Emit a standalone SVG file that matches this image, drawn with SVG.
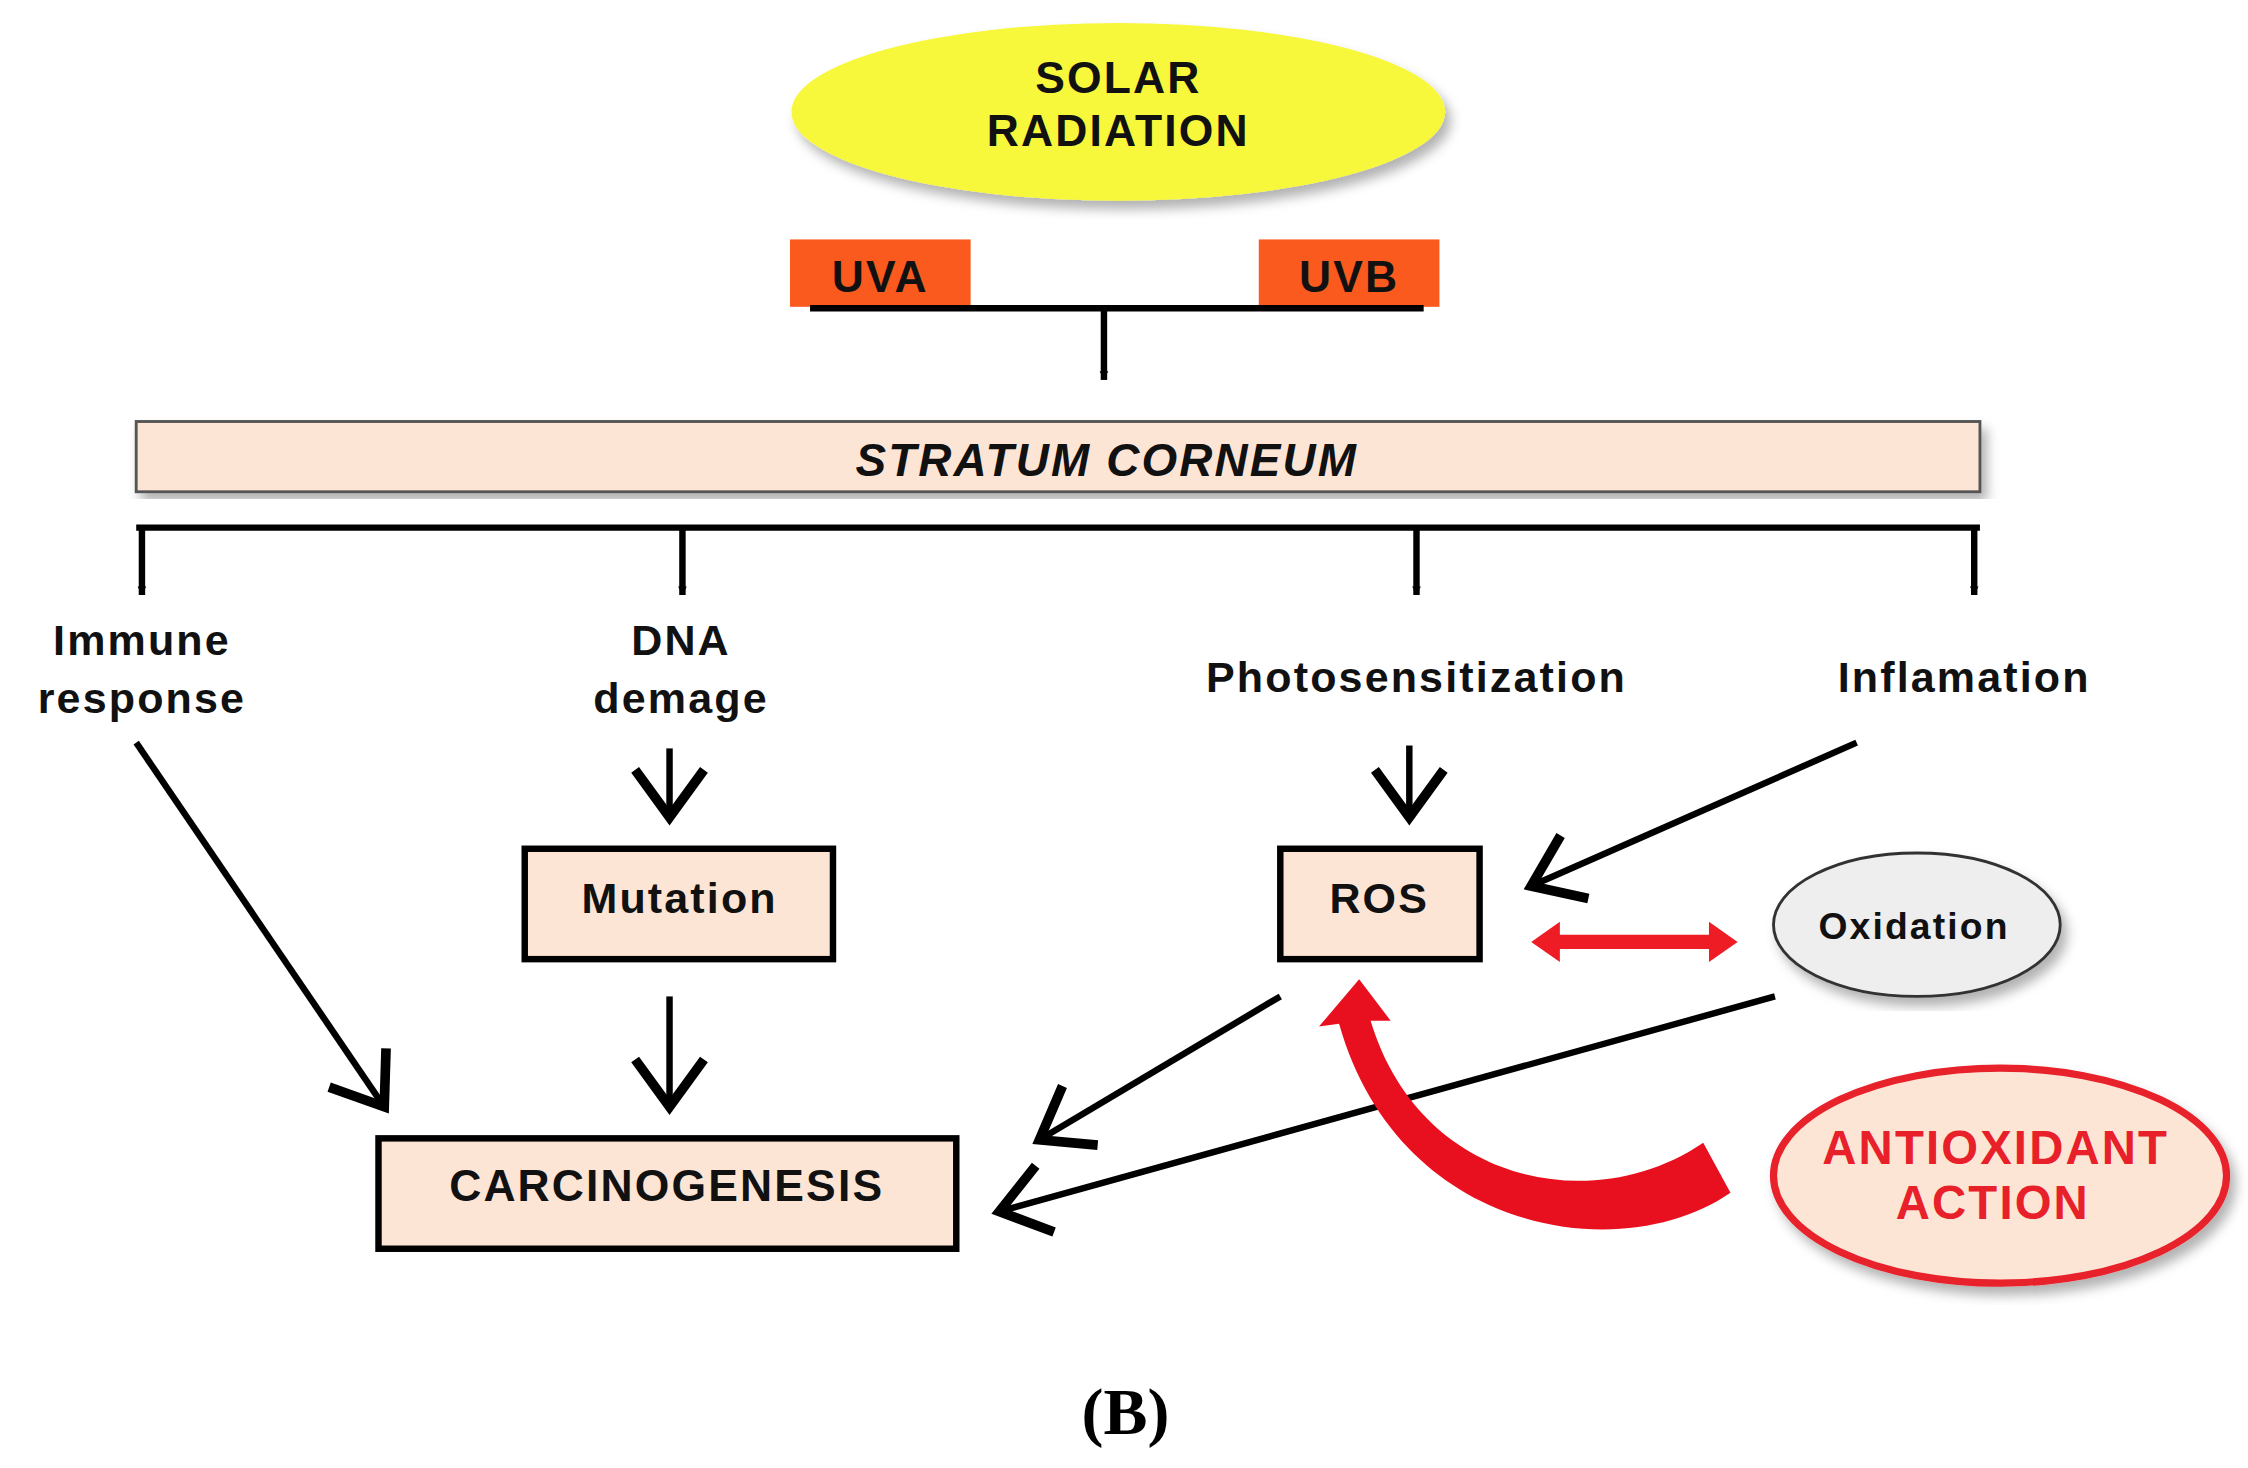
<svg xmlns="http://www.w3.org/2000/svg" width="2248" height="1468" viewBox="0 0 2248 1468">
<defs>
<style>
.t{font-family:"Liberation Sans",Arial,sans-serif;font-weight:bold;text-anchor:middle;fill:#111;letter-spacing:1.5px}
.ln{stroke:#000;stroke-width:4.5;fill:none}
.box{fill:#fde5d6;stroke:#000;stroke-width:4.5}
</style>
<marker id="v" markerUnits="userSpaceOnUse" markerWidth="60" markerHeight="60" refX="26" refY="20" viewBox="0 0 40 40" orient="auto">
<path d="M4,4 L26,20 L4,36" fill="none" stroke="#000" stroke-width="4.5"/>
</marker>
<marker id="s" markerUnits="userSpaceOnUse" markerWidth="12" markerHeight="12" refX="6" refY="3" viewBox="0 0 12 6" orient="auto">
<path d="M0,0 L6,3 L0,6 Z" fill="#000"/>
</marker>
<filter id="sh"><feDropShadow dx="4" dy="6" stdDeviation="4" flood-color="#000" flood-opacity="0.3"/></filter>
</defs>
<rect width="2248" height="1468" fill="#fff"/>
<g transform="scale(1.4337)">
<g id="solar"><ellipse cx="780" cy="78" rx="228" ry="62" fill="#f7f73a" filter="url(#sh)"/>
<text class="t" x="780" y="65" font-size="31">SOLAR</text><text class="t" x="780" y="102" font-size="31">RADIATION</text></g>
<g id="uva"><rect x="551" y="167" width="126" height="47" fill="#fb5a1e"/><text class="t" x="614" y="204" font-size="31">UVA</text></g>
<g id="uvb"><rect x="878" y="167" width="126" height="47" fill="#fb5a1e"/><text class="t" x="941" y="204" font-size="31">UVB</text></g>
<g id="stratum"><rect x="95" y="294" width="1286" height="49" fill="#fde5d6" stroke="#555" stroke-width="2" filter="url(#sh)"/>
<text class="t" x="772" y="332" font-size="32" font-style="italic">STRATUM CORNEUM</text></g>
<g id="labels" class="t" font-size="30">
<text x="99" y="457">Immune</text><text x="99" y="497">response</text>
<text x="475" y="457">DNA</text><text x="475" y="497">demage</text>
<text x="988" y="483">Photosensitization</text>
<text x="1370" y="483">Inflamation</text></g>
<g id="mutation"><rect class="box" x="366" y="592" width="215" height="77"/><text class="t" x="474" y="637" font-size="30">Mutation</text></g>
<g id="ros"><rect class="box" x="893" y="592" width="139" height="77"/><text class="t" x="962" y="637" font-size="30">ROS</text></g>
<g id="carc"><rect class="box" x="264" y="794" width="403" height="77"/><text class="t" x="465" y="838" font-size="31">CARCINOGENESIS</text></g>
<g id="oxidation"><ellipse cx="1337" cy="645" rx="100" ry="50" fill="#eee" stroke="#333" stroke-width="2" filter="url(#sh)"/><text class="t" x="1335" y="655" font-size="26">Oxidation</text></g>
<g id="antioxidant"><ellipse cx="1395" cy="820" rx="158" ry="75" fill="#fde5d6" stroke="#e8202a" stroke-width="5" filter="url(#sh)"/>
<text class="t" x="1392" y="812" font-size="33" style="fill:#e8202a">ANTIOXIDANT</text><text class="t" x="1390" y="850" font-size="33" style="fill:#e8202a">ACTION</text></g>
<g id="connectors">
<path class="ln" d="M565,215 H993"/>
<path class="ln" d="M770,215 V265" marker-end="url(#s)"/>
<path class="ln" d="M95,368 H1381" stroke-width="5"/>
<path class="ln" d="M99,368 V415" marker-end="url(#s)"/>
<path class="ln" d="M476,368 V415" marker-end="url(#s)"/>
<path class="ln" d="M988,368 V415" marker-end="url(#s)"/>
<path class="ln" d="M1377,368 V415" marker-end="url(#s)"/>
<path class="ln" d="M467,522 V570" marker-end="url(#v)"/>
<path class="ln" d="M467,695 V772" marker-end="url(#v)"/>
<path class="ln" d="M95,518 L268,772" marker-end="url(#v)"/>
<path class="ln" d="M983,520 V570" marker-end="url(#v)"/>
<path class="ln" d="M1295,518 L1068,618" marker-end="url(#v)"/>
<path class="ln" d="M893,695 L725,795" marker-end="url(#v)"/>
<path class="ln" d="M1238,695 L697,845" marker-end="url(#v)"/>
<path d="M1068,657 L1088,643 L1088,652 L1192,652 L1192,643 L1212,657 L1192,671 L1192,662 L1088,662 L1088,671 Z" fill="#ee1c25"/>
<path d="M1188,797 L1207,832 C1130,885 975,860 934,714 L920,716 L948,683 L970,712 L956,712 C990,825 1110,850 1188,797 Z" fill="#e8101e"/>
</g>
<text x="785" y="1000" font-family="'Liberation Serif',serif" font-weight="bold" font-size="46" text-anchor="middle">(B)</text>
</g>
</svg>
